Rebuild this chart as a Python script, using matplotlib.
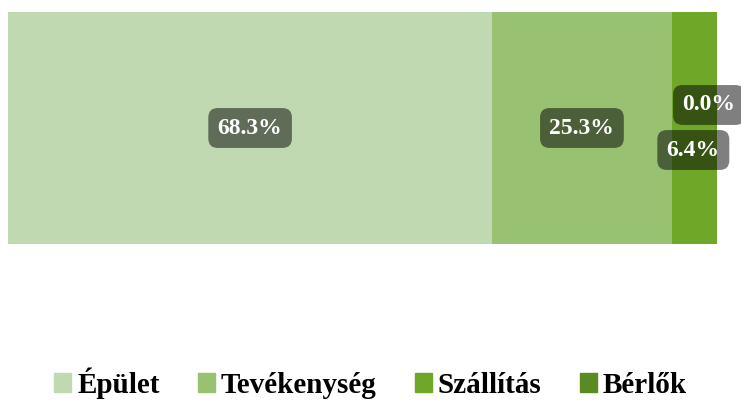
import matplotlib.pyplot as plt
from matplotlib.patches import Patch

categories = ['Épület', 'Tevékenység', 'Szállítás', 'Bérlők']
values = [68.3, 25.3, 6.4, 0.0]
colors = ['#c0d9b0', '#98c272', '#6fa829', '#5a8a22']
# label offsets in pixels (x, y) to avoid overlaps like the original
offsets = [(0, 0), (0, 0), (-1, -22), (-8, 23)]

plt.rcParams['font.family'] = ['Liberation Serif', 'DejaVu Serif']

fig = plt.figure(figsize=(7.41, 4.05), dpi=100)
ax = fig.add_axes([8 / 741, (405 - 244) / 405, 709 / 741, 232 / 405])

left = 0
for cat, val, col, off in zip(categories, values, colors, offsets):
    ax.barh(0, val, left=left, height=1, color=col, label=cat)
    ax.annotate(f'{val:.1f}%', xy=(left + val / 2, 0), xytext=off,
                textcoords='offset pixels', ha='center', va='center',
                color='white', fontsize=17, fontweight='bold',
                bbox=dict(boxstyle='round,pad=0.4', fc='black', ec='none', alpha=0.5),
                annotation_clip=False)
    left += val

ax.set_xlim(0, 100)
ax.set_ylim(-0.5, 0.5)
ax.axis('off')

handles = [Patch(color=c, label=l) for c, l in zip(colors, categories)]
fig.legend(handles=handles, loc='center', bbox_to_anchor=(0.5, 22 / 405),
           ncol=4, frameon=False, handlelength=0.6, handleheight=0.6,
           handletextpad=0.2, columnspacing=1.3,
           prop={'size': 21, 'weight': 'bold'})

fig.savefig('out.png', dpi=100)
